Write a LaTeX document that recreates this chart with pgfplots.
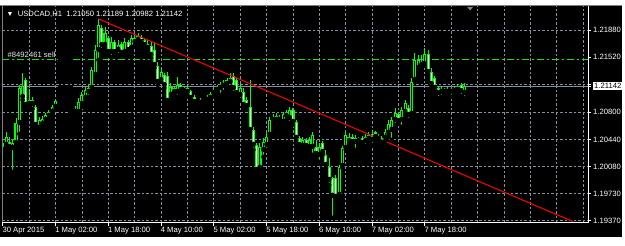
\documentclass[border=0pt]{standalone}
\usepackage{fontspec}
\setmainfont{Liberation Sans}
\usepackage{pgfplots}
\usepackage{pgfplotstable}
\pgfplotsset{compat=1.18}
\definecolor{mtgrid}{RGB}{130,145,160}
\definecolor{mtlime}{RGB}{0,255,0}
\definecolor{ordgreen}{RGB}{20,230,20}
\pgfplotstableread{
i o h l c
-16 1.20303 1.20461 1.20238 1.20395
-15 1.20369 1.2054 1.20343 1.20474
-13 1.2033 1.20435 1.20014 1.20395
-12 1.20395 1.20724 1.20369 1.20658
-11 1.20658 1.21157 1.20513 1.21118
-10 1.21 1.21315 1.2096 1.21144
-7 1.20908 1.21 1.20842 1.2096
-5 1.20592 1.20737 1.2054 1.20697
-4 1.20645 1.2075 1.20619 1.20711
-3 1.20697 1.20789 1.20671 1.20763
-2 1.2075 1.20829 1.20711 1.20803
-1 1.20803 1.20895 1.20776 1.20868
0 1.20868 1.2096 1.20855 1.20947
6 1.20803 1.20881 1.20776 1.20842
7 1.20803 1.20986 1.20763 1.20934
8 1.20908 1.21065 1.20868 1.21026
9 1.20986 1.21131 1.2096 1.21092
10 1.21065 1.21157 1.21 1.21118
11 1.21118 1.21394 1.21092 1.21354
12 1.21289 1.21683 1.21249 1.21617
13 1.21617 1.22025 1.21486 1.21946
15 1.21683 1.21919 1.21643 1.21841
17 1.21591 1.21788 1.21525 1.21722
19 1.21617 1.21749 1.21552 1.21683
21 1.21591 1.21775 1.21552 1.21722
23 1.21643 1.21814 1.21591 1.21775
24 1.21722 1.21814 1.21683 1.21775
25 1.21749 1.21841 1.21722 1.21801
32 1.21223 1.21381 1.21197 1.21328
35 1.21026 1.21184 1.21 1.21131
37 1.21065 1.21262 1.21 1.21157
40 1.21065 1.21157 1.21026 1.21118
43 1.20921 1.2096 1.20895 1.20947
45 1.20921 1.2096 1.20908 1.20947
46 1.2096 1.21026 1.20934 1.21
47 1.20986 1.21065 1.20934 1.21039
48 1.21052 1.21118 1.21026 1.21092
49 1.21092 1.21157 1.21065 1.21131
50 1.21118 1.21197 1.21026 1.21157
51 1.21144 1.21223 1.21065 1.21184
52 1.2117 1.21249 1.21118 1.21223
56 1.21026 1.21184 1.2096 1.21118
62 1.20067 1.20395 1.2004 1.20343
63 1.20303 1.20461 1.20211 1.20408
64 1.20369 1.20527 1.20303 1.20474
65 1.205 1.20737 1.20461 1.20697
66 1.20697 1.20776 1.20645 1.20737
68 1.20697 1.20763 1.20645 1.20724
69 1.20671 1.20803 1.20645 1.20776
70 1.2075 1.20829 1.20697 1.20803
71 1.20724 1.20868 1.20658 1.20829
75 1.20356 1.20474 1.20303 1.20435
77 1.20343 1.20474 1.20303 1.20435
78 1.20343 1.2054 1.20238 1.205
80 1.20238 1.20395 1.20146 1.20343
86 1.19712 1.20106 1.19672 1.2008
87 1.20093 1.20356 1.20067 1.2033
88 1.2033 1.2054 1.20303 1.205
91 1.20408 1.205 1.20303 1.20461
92 1.20421 1.20474 1.20369 1.20448
94 1.20421 1.20513 1.20356 1.20474
95 1.20448 1.2054 1.20395 1.205
98 1.20448 1.20513 1.20408 1.20487
100 1.20461 1.20579 1.20421 1.2054
101 1.20527 1.20697 1.205 1.20645
102 1.20566 1.20737 1.20435 1.20697
103 1.20697 1.20855 1.20632 1.20789
105 1.20697 1.20868 1.20605 1.20829
106 1.20803 1.2096 1.20763 1.20921
108 1.20776 1.21249 1.20737 1.21197
109 1.21223 1.21578 1.21197 1.21486
110 1.21381 1.21552 1.21354 1.21486
112 1.21433 1.21643 1.21407 1.21565
118 1.21065 1.21118 1.21013 1.21092
120 1.21065 1.21118 1.21 1.21105
121 1.21078 1.21144 1.21026 1.21118
124 1.2105 1.21189 1.20982 1.21142
}\bull
\pgfplotstableread{
i o h l c
-14 1.20408 1.20474 1.20303 1.20343
-9 1.21223 1.21249 1.20868 1.20895
-8 1.2096 1.21105 1.20855 1.20908
-6 1.20868 1.20895 1.20592 1.20632
5 1.20829 1.20855 1.20789 1.20816
14 1.21906 1.21946 1.21617 1.21683
16 1.21775 1.21801 1.21552 1.21591
18 1.21722 1.21749 1.21538 1.21591
20 1.21696 1.21722 1.21538 1.21578
22 1.21722 1.21749 1.21591 1.21617
26 1.21788 1.21814 1.21683 1.21722
27 1.21749 1.21775 1.21643 1.21683
28 1.21696 1.21749 1.21591 1.21643
29 1.2167 1.21722 1.21512 1.21552
30 1.21617 1.21722 1.21381 1.2142
31 1.21407 1.2146 1.21157 1.21197
33 1.21289 1.21315 1.21118 1.21157
34 1.21276 1.21328 1.20895 1.20947
36 1.21118 1.21144 1.21039 1.21065
38 1.21157 1.21184 1.21065 1.21092
39 1.21118 1.21144 1.21052 1.21078
41 1.21078 1.21092 1.20934 1.20986
42 1.21 1.21026 1.20895 1.20934
44 1.2096 1.20986 1.20908 1.20921
53 1.21249 1.21315 1.21131 1.21197
54 1.21276 1.21315 1.21052 1.21118
55 1.21223 1.21249 1.21 1.21052
57 1.21065 1.21118 1.20855 1.20895
58 1.2096 1.21 1.20855 1.20881
59 1.20868 1.21223 1.2054 1.20566
60 1.20566 1.20605 1.20303 1.20369
61 1.20369 1.20395 1.20014 1.2004
67 1.2075 1.20789 1.20658 1.20697
72 1.20829 1.20855 1.20632 1.20671
73 1.20671 1.20697 1.20435 1.20461
74 1.20461 1.20487 1.2033 1.20369
76 1.20435 1.20461 1.2033 1.20356
79 1.20343 1.20435 1.20224 1.20251
81 1.20395 1.20421 1.20238 1.20277
82 1.20238 1.20303 1.20067 1.20106
83 1.2008 1.20198 1.19843 1.19909
84 1.19935 1.19948 1.1941 1.19699
85 1.19935 1.19975 1.19646 1.19686
89 1.20474 1.20527 1.20369 1.20421
90 1.20474 1.20513 1.20369 1.20408
93 1.20461 1.20487 1.20369 1.20395
96 1.20513 1.20566 1.20369 1.20435
97 1.2054 1.20553 1.20435 1.20474
99 1.20461 1.20487 1.20356 1.20395
104 1.20776 1.20803 1.20658 1.20684
107 1.20855 1.20895 1.20697 1.20763
111 1.2146 1.21552 1.21381 1.2142
113 1.21565 1.21617 1.21289 1.21328
114 1.21328 1.21381 1.21131 1.2117
115 1.21249 1.21276 1.21092 1.21118
116 1.21118 1.21144 1.20986 1.21052
117 1.21092 1.21144 1.21 1.21065
119 1.21092 1.21131 1.21026 1.21065
122 1.21118 1.2117 1.21039 1.21092
123 1.21157 1.21184 1.21013 1.21078
}\bear
\newcommand\mtfont{\fontsize{7.7}{9}\selectfont}
\begin{document}
\begin{tikzpicture}
\fill[white] (-2bp,-23.3bp) rectangle (623bp,222.7bp);
\fill[black] (-2bp,-14.3bp) rectangle (620bp,216.7bp);
\begin{axis}[
  at={(0,0)}, anchor=south west, scale only axis,
  width=586bp, height=216.7bp,
  xmin=-16.1, xmax=161.5, ymin=1.19348, ymax=1.22195,
  axis line style={draw=none},
  tick style={white, line width=0.8bp},
  tick align=outside, major tick length=3bp, minor tick length=0pt,
  xtick pos=left, ytick pos=right, yticklabel pos=right,
  xtick={-16,0,16,32,48,64,80,96,112},
  xticklabels={30 Apr 2015, 1 May 02:00, 1 May 18:00, 4 May 10:00, 5 May 02:00, 5 May 18:00, 6 May 10:00, 7 May 02:00, 7 May 18:00},
  minor xtick={-8,8,24,40,56,72,88,104,120,128,136,144,152,160},
  ytick={1.1937,1.1973,1.2008,1.2044,1.2080,1.2116,1.2152,1.2188},
  yticklabels={1.19370,1.19730,1.20080,1.20440,1.20800,,1.21520,1.21880},
  minor ytick={1.1937,1.1973,1.2008,1.2044,1.2080,1.2116,1.2188},
  xmajorgrids, xminorgrids, yminorgrids,
  grid style={draw=mtgrid, line width=0.8bp, dash pattern=on 2.5bp off 2bp},
  major grid style={draw=mtgrid, line width=0.8bp, dash pattern=on 2.5bp off 2bp},
  minor grid style={draw=mtgrid, line width=0.8bp, dash pattern=on 2.5bp off 2bp},
  xticklabel style={font=\mtfont, text=white, anchor=north west, inner sep=0pt, xshift=-0.5bp, yshift=-1.5bp},
  yticklabel style={font=\mtfont, text=white, anchor=west, inner sep=0pt, xshift=2bp},
  extra y ticks={1.21142}, extra y tick labels={1.21142},
  extra y tick style={grid=none, yticklabel style={fill=white, text=black, inner xsep=1.5bp, inner ysep=1bp, xshift=-0.5bp}},
]
% bid line
\addplot[color=mtgrid, line width=1bp] coordinates {(-16.1,1.21142) (0.6,1.21142)};
\addplot[color=mtgrid, line width=1bp] coordinates {(5.2,1.21142) (161.5,1.21142)};
% order line
\addplot[color=ordgreen, line width=1.3bp, dash pattern=on 7bp off 3bp on 2bp off 3bp] coordinates {(-16.1,1.2149) (0.6,1.2149)};
\addplot[color=ordgreen, line width=1.3bp, dash pattern=on 7bp off 3bp on 2bp off 3bp] coordinates {(5.2,1.2149) (161.5,1.2149)};
% wicks
\addplot[only marks, mark=none, error bars/.cd, y dir=plus, y explicit, error mark=none, error bar style={draw=mtlime, line width=1bp}] table[x=i, y=l, y error expr=\thisrow{h}-\thisrow{l}] {\bull};
\addplot[only marks, mark=none, error bars/.cd, y dir=plus, y explicit, error mark=none, error bar style={draw=mtlime, line width=1bp}] table[x=i, y=l, y error expr=\thisrow{h}-\thisrow{l}] {\bear};
% bodies
\addplot[only marks, mark=none, error bars/.cd, y dir=plus, y explicit, error mark=none, error bar style={draw=mtlime, line width=3.1bp}] table[x=i, y expr={min(\thisrow{o},\thisrow{c})}, y error expr={abs(\thisrow{c}-\thisrow{o})}] {\bull};
\addplot[only marks, mark=none, error bars/.cd, y dir=plus, y explicit, error mark=none, error bar style={draw=mtlime, line width=3.1bp}] table[x=i, y expr={min(\thisrow{o},\thisrow{c})}, y error expr={abs(\thisrow{c}-\thisrow{o})}] {\bear};
% interiors
\addplot[only marks, mark=none, error bars/.cd, y dir=plus, y explicit, error mark=none, error bar style={draw=black, line width=1bp}] table[x=i, y expr={min(\thisrow{o},\thisrow{c})+0.00013}, y error expr={max(abs(\thisrow{c}-\thisrow{o})-0.00026,0)}] {\bull};
\addplot[only marks, mark=none, error bars/.cd, y dir=plus, y explicit, error mark=none, error bar style={draw=white, line width=1bp}] table[x=i, y expr={min(\thisrow{o},\thisrow{c})+0.00013}, y error expr={max(abs(\thisrow{c}-\thisrow{o})-0.00026,0)}] {\bear};
% trend line
\addplot[color=red, line width=1bp] coordinates {(13,1.22025) (157,1.1936)};
\end{axis}
% frame
\draw[gray, line width=1bp] (0bp,0bp) -- (0bp,216.7bp);
\draw[gray, line width=1bp] (-2bp,216.7bp) -- (620bp,216.7bp);
\draw[white, line width=1bp] (0bp,0bp) -- (586bp,0bp) -- (586bp,216.7bp);
\fill[gray] (465bp,215.7bp) -- (471bp,215.7bp) -- (468bp,212.2bp) -- cycle;
\node[anchor=west, inner sep=0pt, text=white, font=\mtfont] at (4bp,208.5bp) {\scriptsize▼\mtfont\ \ USDCAD,H1\ \ 1.21050 1.21189 1.20982 1.21142};
\node[anchor=west, inner sep=0pt, text=white!85!gray, font=\mtfont] at (5bp,167.5bp) {\#8492461 sell};
\end{tikzpicture}
\end{document}
